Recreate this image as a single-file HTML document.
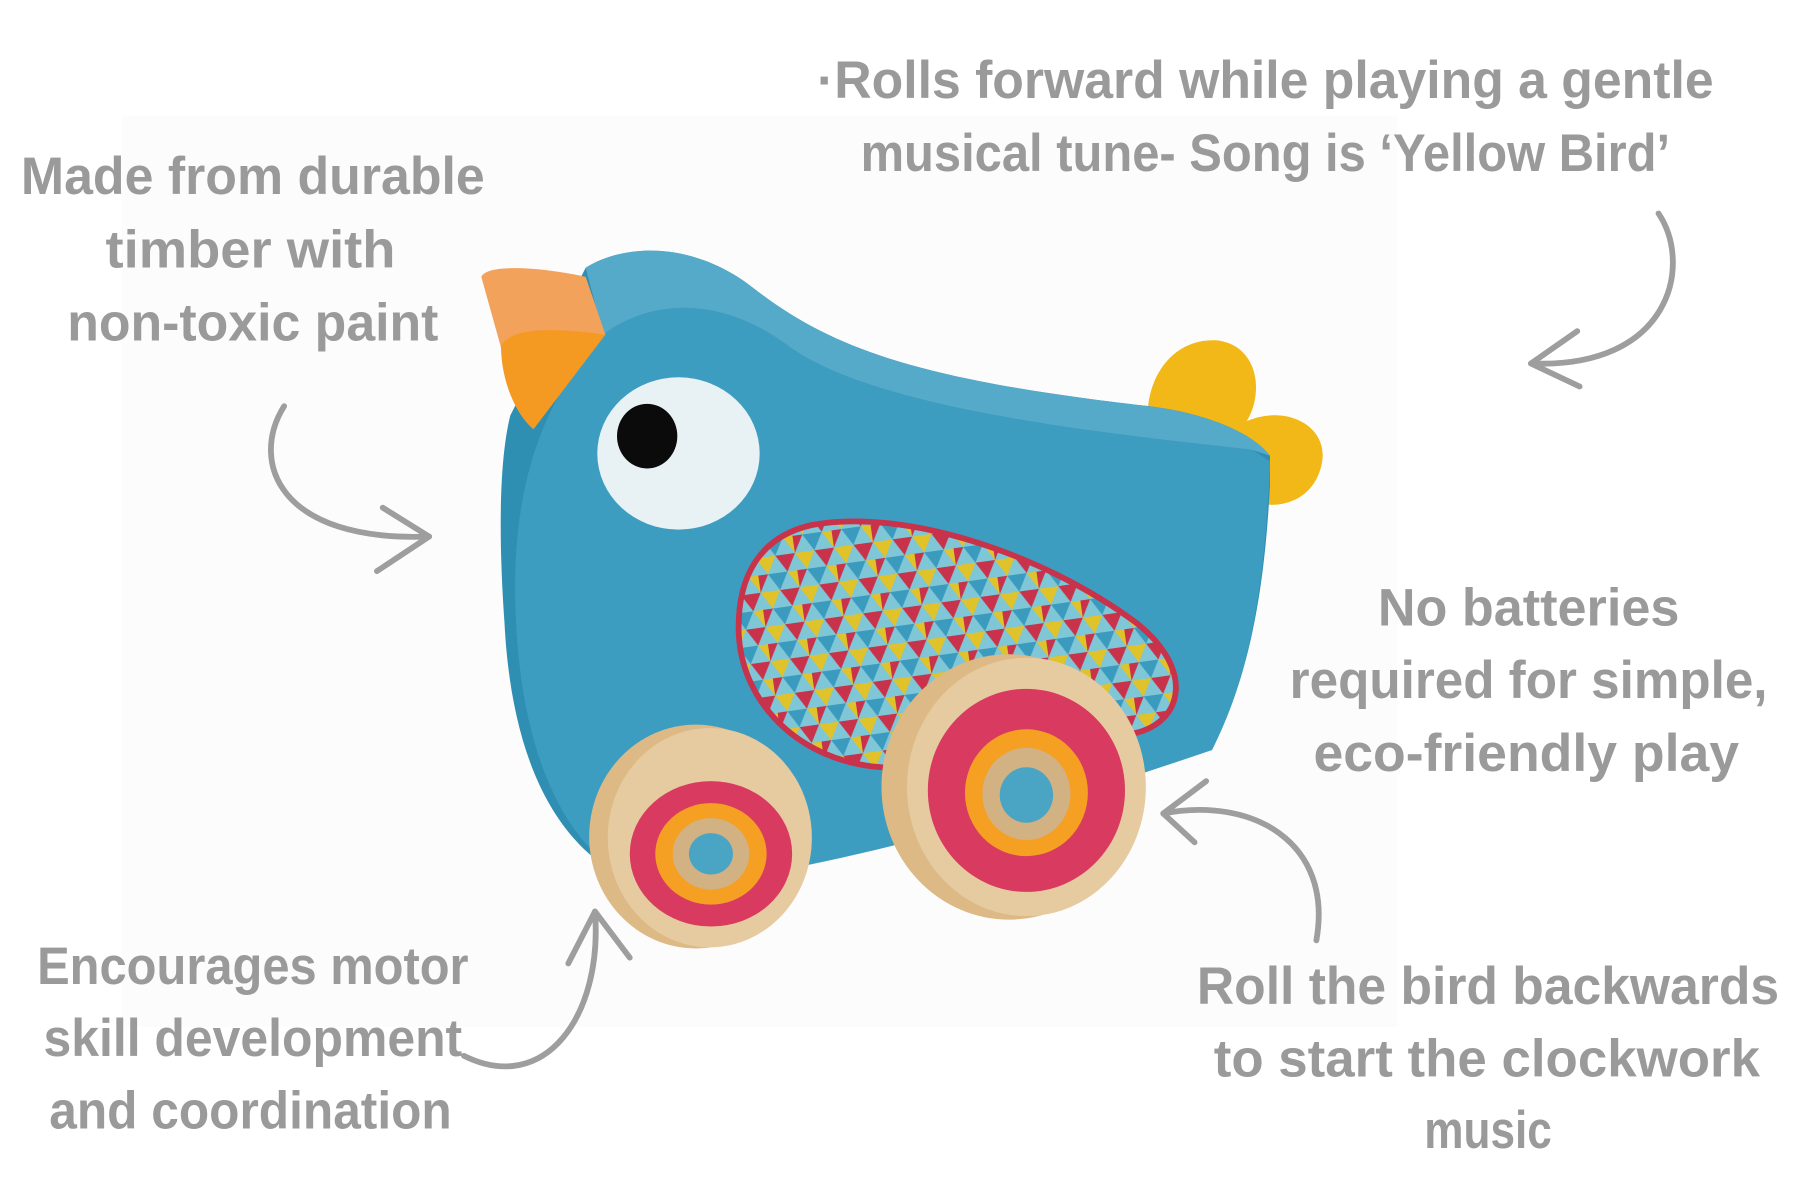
<!DOCTYPE html>
<html><head><meta charset="utf-8"><style>
html,body{margin:0;padding:0;background:#fff;width:1800px;height:1200px;overflow:hidden}
svg{display:block}
text{font-family:"Liberation Sans Narrow","Liberation Sans",sans-serif;font-weight:bold;fill:#9a9a9a;font-size:46px}
</style></head><body>
<svg width="1800" height="1200" viewBox="0 0 1552 1040" preserveAspectRatio="none" xmlns="http://www.w3.org/2000/svg">
<defs>
<pattern id="tri" width="34" height="30" patternUnits="userSpaceOnUse" patternTransform="rotate(-8)">
<rect width="34" height="30" fill="#7fc6d6"/>
<polygon points="0,0 17,0 8.5,15" fill="#e0c32a"/>
<polygon points="17,0 34,0 25.5,15" fill="#c8324a"/>
<polygon points="8.5,15 25.5,15 17,30" fill="#3b9bbf"/>
<polygon points="0,30 8.5,15 0,15" fill="#c8324a"/>
<polygon points="25.5,15 34,15 34,30" fill="#e0c32a"/>
</pattern>
</defs>
<rect x="105" y="100" width="1100" height="790" fill="#fcfcfc"/>
<!-- tail -->
<path d="M990,372 C985,330 1010,292 1050,295 C1085,300 1090,340 1075,365 C1110,350 1145,370 1140,400 C1135,430 1110,440 1090,437 Z" fill="#f2b817"/>
<!-- body side/top -->
<path d="M505,232 C540,210 600,210 650,250 C720,305 800,330 990,352 C1040,358 1080,375 1095,395 L1095,420 C1090,520 1075,590 1045,650 L560,770 C470,740 440,640 435,540 C430,470 430,400 440,360 Z" fill="#2f8fb3"/>
<path d="M505,232 C540,210 600,210 650,250 C720,305 800,330 990,352 C1040,358 1080,375 1095,395 L1080,390 C1000,380 760,360 680,300 C620,255 560,260 520,290 Z" fill="#55a9c9"/>
<path d="M520,290 C560,260 620,255 680,300 C760,360 1000,380 1080,390 L1095,400 C1090,520 1075,590 1045,650 C900,700 700,760 560,770 C480,740 450,640 445,540 C440,450 455,360 520,290 Z" fill="#3d9dc1"/>
<!-- beak -->
<path d="M415,240 C420,228 470,232 505,240 L522,290 L470,300 L440,330 Z" fill="#f2a25a"/>
<path d="M432,300 C440,285 470,283 522,290 L460,372 C445,360 432,330 432,300 Z" fill="#f49a22"/>
<!-- eye -->
<ellipse cx="585" cy="393" rx="70" ry="66" fill="#e8f2f4"/>
<ellipse cx="558" cy="378" rx="26" ry="28" fill="#0b0b0b"/>
<!-- wing -->
<path d="M700,455 C780,440 900,480 980,540 C1030,580 1020,625 980,635 C900,650 820,670 760,665 C690,660 640,610 637,550 C635,500 655,465 700,455 Z" fill="url(#tri)" stroke="#c8324a" stroke-width="5"/>
<!-- back wheel -->
<ellipse cx="870" cy="682" rx="110" ry="115" fill="#dcb985"/>
<ellipse cx="885" cy="682" rx="103" ry="112" fill="#e7cba0"/>
<ellipse cx="885" cy="685" rx="85" ry="88" fill="#d93a5f"/>
<ellipse cx="885" cy="687" rx="53" ry="55" fill="#f5a023"/>
<ellipse cx="885" cy="688" rx="38" ry="40" fill="#d2b183"/>
<ellipse cx="885" cy="689" rx="23" ry="24" fill="#4aa5c5"/>
<!-- front wheel -->
<ellipse cx="600" cy="725" rx="92" ry="97" fill="#dcb985"/>
<ellipse cx="612" cy="726" rx="88" ry="95" fill="#e7cba0"/>
<ellipse cx="613" cy="740" rx="70" ry="63" fill="#d93a5f"/>
<ellipse cx="613" cy="740" rx="48" ry="44" fill="#f5a023"/>
<ellipse cx="613" cy="740" rx="33" ry="31" fill="#d2b183"/>
<ellipse cx="613" cy="740" rx="19" ry="18" fill="#4aa5c5"/>
<!-- arrows -->
<g fill="none" stroke="#9e9e9e" stroke-width="5" stroke-linecap="round" stroke-linejoin="round">
<path d="M245,352 C215,400 240,470 370,465"/>
<path d="M330,440 L370,465 L325,495"/>
<path d="M1430,185 C1460,230 1440,320 1320,315"/>
<path d="M1360,287 L1320,315 L1362,335"/>
<path d="M1135,815 C1150,730 1080,690 1003,705"/>
<path d="M1040,677 L1003,705 L1030,730"/>
<path d="M400,915 C470,950 520,880 513,790"/>
<path d="M490,835 L513,790 L543,830"/>
</g>
<!-- text -->
<g text-anchor="middle">
<text x="218" y="168" textLength="400" lengthAdjust="spacingAndGlyphs">Made from durable</text>
<text x="216" y="232" textLength="250" lengthAdjust="spacingAndGlyphs">timber with</text>
<text x="218" y="295" textLength="320" lengthAdjust="spacingAndGlyphs">non-toxic paint</text>
<text x="1091" y="85" textLength="773" lengthAdjust="spacingAndGlyphs">·Rolls forward while playing a gentle</text>
<text x="1091" y="148" textLength="698" lengthAdjust="spacingAndGlyphs">musical tune- Song is ‘Yellow Bird’</text>
<text x="1318" y="542" textLength="260" lengthAdjust="spacingAndGlyphs">No batteries</text>
<text x="1318" y="605" textLength="412" lengthAdjust="spacingAndGlyphs">required for simple,</text>
<text x="1316" y="668" textLength="367" lengthAdjust="spacingAndGlyphs">eco-friendly play</text>
<text x="218" y="853" textLength="372" lengthAdjust="spacingAndGlyphs">Encourages motor</text>
<text x="218" y="915" textLength="361" lengthAdjust="spacingAndGlyphs">skill development</text>
<text x="216" y="978" textLength="347" lengthAdjust="spacingAndGlyphs">and coordination</text>
<text x="1283" y="870" textLength="502" lengthAdjust="spacingAndGlyphs">Roll the bird backwards</text>
<text x="1282" y="933" textLength="471" lengthAdjust="spacingAndGlyphs">to start the clockwork</text>
<text x="1283" y="995" textLength="110" lengthAdjust="spacingAndGlyphs">music</text>
</g>
</svg>
</body></html>
